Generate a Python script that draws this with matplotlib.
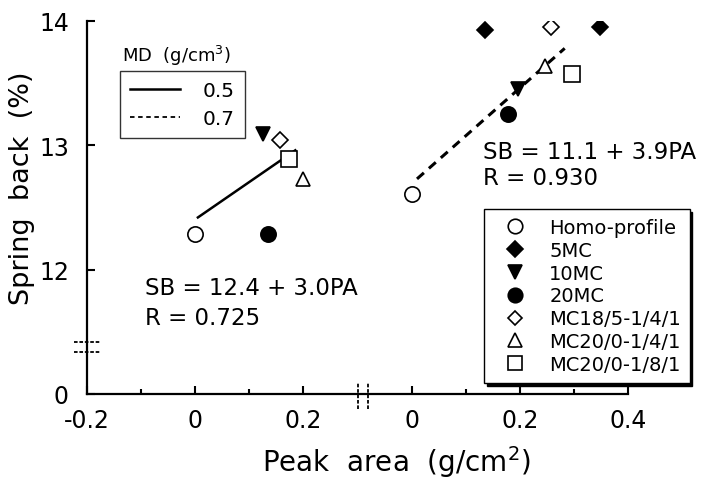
import numpy as np
import matplotlib
matplotlib.use('Agg')
import matplotlib.pyplot as plt
from matplotlib.lines import Line2D

# series shown in the right legend
series = ['Homo-profile', '5MC', '10MC', '20MC',
          'MC18/5-1/4/1', 'MC20/0-1/4/1', 'MC20/0-1/8/1']
markers = ['o', 'D', 'v', 'o', 'D', '^', 's']
filled = [False, True, True, True, False, False, False]
msizes = [11, 8.5, 10, 11, 8, 10, 11]

# MD = 0.5 g/cm3 (left block of the x axis)
grp_md05 = ['Homo-profile', '10MC', '20MC', 'MC18/5-1/4/1', 'MC20/0-1/4/1', 'MC20/0-1/8/1']
pa_md05 = [0.0, 0.126, 0.135, 0.157, 0.199, 0.173]
sb_md05 = [12.29, 13.09, 12.29, 13.04, 12.73, 12.89]

# MD = 0.7 g/cm3 (right block of the x axis)
grp_md07 = ['Homo-profile', '5MC', '5MC', '10MC', '20MC', 'MC18/5-1/4/1', 'MC20/0-1/4/1', 'MC20/0-1/8/1']
pa_md07 = [0.0, 0.135, 0.348, 0.196, 0.179, 0.257, 0.246, 0.296]
sb_md07 = [12.61, 13.93, 13.95, 13.45, 13.25, 13.95, 13.64, 13.57]

# regression lines as drawn
fit_pa_md05 = [0.005, 0.185]
fit_sb_md05 = [12.42, 12.96]
fit_pa_md07 = [0.01, 0.283]
fit_sb_md07 = [12.73, 13.78]

xticks_left = [-0.2, 0, 0.2]
xticks_right = [0, 0.2, 0.4]
yticks = [12, 13, 14]

shift = 0.4     # right block is drawn shifted after the axis break
y_zero = 11.0   # where the "0" of the broken y axis sits

plt.rcParams['font.family'] = 'DejaVu Sans'

fig = plt.figure(figsize=(7.05, 4.81), dpi=100)
W, H = 705, 481
ax = fig.add_axes([87 / W, 1 - 395 / H, (628 - 87) / W, (395 - 22) / H])

ax.plot(fit_pa_md05, fit_sb_md05, color='black', lw=1.8, zorder=2)
ax.plot(np.array(fit_pa_md07) + shift, fit_sb_md07, color='black', lw=2.2,
        linestyle=(0, (3, 2.2)), zorder=2)

handles = []
for name, m, f, ms in zip(series, markers, filled, msizes):
    xs = [p for p, g in zip(pa_md05, grp_md05) if g == name]
    ys = [s for s, g in zip(sb_md05, grp_md05) if g == name]
    xs += [p + shift for p, g in zip(pa_md07, grp_md07) if g == name]
    ys += [s for s, g in zip(sb_md07, grp_md07) if g == name]
    h, = ax.plot(xs, ys, linestyle='none', marker=m, markersize=ms,
                 markerfacecolor='black' if f else 'white',
                 markeredgecolor='black', markeredgewidth=1.2, zorder=3, label=name)
    handles.append(h)

ax.set_xlim(-0.2, 0.8)
ax.set_ylim(y_zero, 14)
ax.set_xticks(xticks_left + [t + shift for t in xticks_right])
ax.set_xticklabels([f'{t:g}' for t in xticks_left + xticks_right])
ax.set_xticks([-0.1, 0.1, 0.1 + shift, 0.3 + shift], minor=True)
ax.set_yticks([y_zero] + yticks)
ax.set_yticklabels(['0'] + [str(t) for t in yticks])

for s in ['top', 'right']:
    ax.spines[s].set_visible(False)
for s in ['left', 'bottom']:
    ax.spines[s].set_linewidth(1.6)
ax.tick_params(which='major', direction='in', length=6, width=1.5, labelsize=17)
ax.tick_params(which='minor', direction='in', length=3.5, width=1.5)
ax.tick_params(axis='y', pad=13)
ax.tick_params(axis='x', pad=10)

# axis break marks
for yb in [11.335, 11.415]:
    ax.plot([-0.224, -0.174], [yb, yb], color='black', lw=1.3,
            linestyle=(0, (2, 1)), clip_on=False, zorder=4)
for xb in [0.30, 0.32]:
    ax.plot([xb, xb], [10.88, 11.096], color='black', lw=1.3,
            linestyle=(0, (2, 1)), clip_on=False, zorder=4)

ax.set_xlabel('Peak  area  (g/cm$^2$)', fontsize=20)
ax.xaxis.set_label_coords(396 / W, 1 - 444 / H, transform=fig.transFigure)
ax.set_ylabel('Spring  back  (%)', fontsize=19.5)
ax.yaxis.set_label_coords(22 / W, 1 - 188 / H, transform=fig.transFigure)
ax.yaxis.label.set_va('center')

# equations
fig.text(145 / W, 1 - 295 / H, 'SB = 12.4 + 3.0PA', fontsize=16.5, va='baseline')
fig.text(145 / W, 1 - 325 / H, 'R = 0.725', fontsize=16.5, va='baseline')
fig.text(483 / W, 1 - 159 / H, 'SB = 11.1 + 3.9PA', fontsize=16.5, va='baseline')
fig.text(483 / W, 1 - 185 / H, 'R = 0.930', fontsize=16.5, va='baseline')

# MD legend
fig.text(122 / W, 1 - 62 / H, 'MD  (g/cm$^3$)', fontsize=13, va='baseline')
md_handles = [Line2D([], [], color='black', lw=1.8),
              Line2D([], [], color='black', lw=1.3, linestyle=(0, (2.5, 2)))]
leg1 = ax.legend(md_handles, ['0.5', '0.7'], loc='upper left',
                 bbox_to_anchor=(120 / W, 1 - 72 / H), bbox_transform=fig.transFigure,
                 fontsize=14.5, frameon=True, fancybox=False, edgecolor='black',
                 handlelength=2.5, handletextpad=1.1, borderpad=0.5, labelspacing=0.45,
                 borderaxespad=0)
leg1.get_frame().set_linewidth(1.0)
ax.add_artist(leg1)

leg2 = ax.legend(handles=handles, loc='upper left',
                 bbox_to_anchor=(484 / W, 1 - 210 / H), bbox_transform=fig.transFigure,
                 fontsize=14, frameon=True, fancybox=False, edgecolor='black',
                 shadow={'color': 'black', 'alpha': 1}, handlelength=2.3,
                 handletextpad=0.6, borderpad=0.45, labelspacing=0.2, borderaxespad=0,
                 markerscale=0.95)
leg2.get_frame().set_linewidth(1.0)

fig.savefig('out.png', dpi=100)
